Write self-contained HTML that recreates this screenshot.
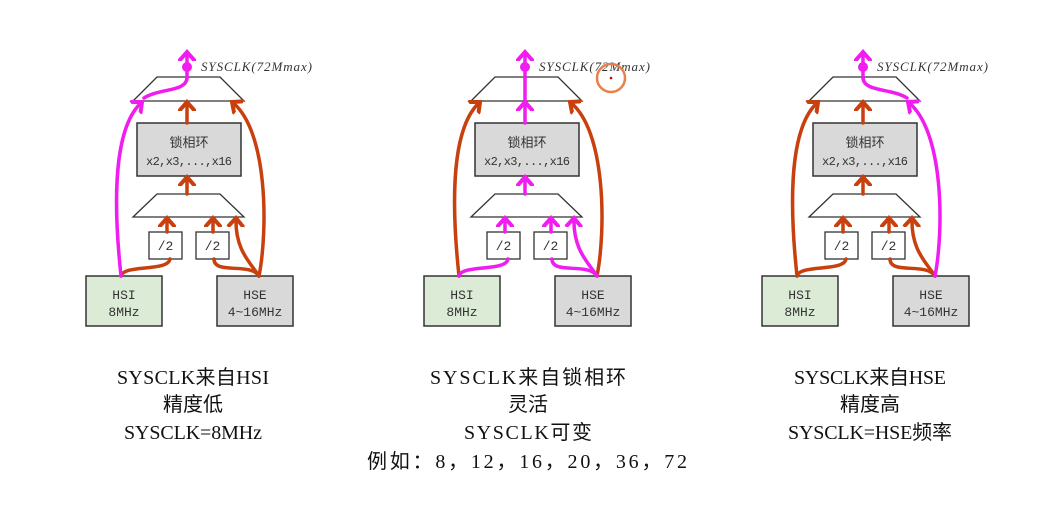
<!DOCTYPE html>
<html><head><meta charset="utf-8"><style>
html,body{margin:0;padding:0;background:#fff;}
svg{display:block}
.b{font-family:"Liberation Mono","Noto Sans CJK SC",monospace;fill:#333;}
.s{font-family:"Liberation Serif","Noto Sans CJK SC",serif;fill:#333;}
.cap{font-family:"Liberation Serif","Noto Sans CJK SC",serif;font-size:20px;fill:#111;text-anchor:middle;}
.o{stroke:#c8400e;stroke-width:3.5;fill:none;stroke-linecap:round;}
.m{stroke:#f01cf0;stroke-width:3.5;fill:none;stroke-linecap:round;}
</style></head><body>
<svg width="1052" height="508" viewBox="0 0 1052 508" xmlns="http://www.w3.org/2000/svg">
<defs>
<marker id="ao" markerUnits="userSpaceOnUse" markerWidth="18" markerHeight="18" refX="0" refY="0" viewBox="-9 -9 18 18" orient="auto"><path d="M-8,-7 L0,0 L-8,7" stroke="#c8400e" stroke-width="4" fill="none" stroke-linecap="round"/></marker>
<marker id="am" markerUnits="userSpaceOnUse" markerWidth="18" markerHeight="18" refX="0" refY="0" viewBox="-9 -9 18 18" orient="auto"><path d="M-8,-7 L0,0 L-8,7" stroke="#f01cf0" stroke-width="4" fill="none" stroke-linecap="round"/></marker>
</defs>

<!-- Diagram 1 -->
<g transform="translate(0,0)">
<polygon points="157,77 220,77 244,101 133,101" fill="#fff" stroke="#333" stroke-width="1.3"/>
<rect x="137" y="123" width="104" height="53" fill="#d9d9d9" stroke="#333" stroke-width="1.5"/>
<text class="b" x="189" y="147" font-size="13" text-anchor="middle">锁相环</text>
<text class="b" x="189" y="165" font-size="12" text-anchor="middle" textLength="86">x2,x3,...,x16</text>
<polygon points="157,194 220,194 244,217 133,217" fill="#fff" stroke="#333" stroke-width="1.3"/>
<rect x="149" y="232" width="33" height="27" fill="#fff" stroke="#333" stroke-width="1.3"/>
<text class="b" x="165.5" y="250" font-size="13" text-anchor="middle">/2</text>
<rect x="196" y="232" width="33" height="27" fill="#fff" stroke="#333" stroke-width="1.3"/>
<text class="b" x="212.5" y="250" font-size="13" text-anchor="middle">/2</text>
<rect x="86" y="276" width="76" height="50" fill="#dcebd5" stroke="#333" stroke-width="1.5"/>
<text class="b" x="124" y="299" font-size="13" text-anchor="middle">HSI</text>
<text class="b" x="124" y="316" font-size="13" text-anchor="middle">8MHz</text>
<rect x="217" y="276" width="76" height="50" fill="#d9d9d9" stroke="#333" stroke-width="1.5"/>
<text class="b" x="255" y="299" font-size="13" text-anchor="middle">HSE</text>
<text class="b" x="255" y="316" font-size="13" text-anchor="middle">4~16MHz</text>
<text class="s" x="201" y="71" font-size="13" font-style="italic" textLength="111">SYSCLK(72Mmax)</text>
<path class="o" d="M187,123 L187,102" marker-end="url(#ao)"/>
<path class="o" d="M187,194 L187,177" marker-end="url(#ao)"/>
<path class="o" d="M167,232 L167,218" marker-end="url(#ao)"/>
<path class="o" d="M213,232 L213,218" marker-end="url(#ao)"/>
<path class="o" d="M259,276 C250,262 235,250 236,218" marker-end="url(#ao)"/>
<path class="o" d="M259,276 C268,230 268,130 232,102" marker-end="url(#ao)"/>
<path class="o" d="M121,276 C124,264 168,272 170,259"/>
<path class="o" d="M259,276 C250,262 214,275 214,259"/>
<path class="m" d="M121,276 C115,220 110,130 142,102" marker-end="url(#am)"/>
<path class="m" d="M144,98 C160,88 186,92 187,78"/>
<path class="m" d="M187,78 L187,52" marker-end="url(#am)"/>
<circle cx="187" cy="67" r="5" fill="#f01cf0"/>
</g>

<!-- Diagram 2 -->
<g transform="translate(338,0)">
<polygon points="157,77 220,77 244,101 133,101" fill="#fff" stroke="#333" stroke-width="1.3"/>
<rect x="137" y="123" width="104" height="53" fill="#d9d9d9" stroke="#333" stroke-width="1.5"/>
<text class="b" x="189" y="147" font-size="13" text-anchor="middle">锁相环</text>
<text class="b" x="189" y="165" font-size="12" text-anchor="middle" textLength="86">x2,x3,...,x16</text>
<polygon points="157,194 220,194 244,217 133,217" fill="#fff" stroke="#333" stroke-width="1.3"/>
<rect x="149" y="232" width="33" height="27" fill="#fff" stroke="#333" stroke-width="1.3"/>
<text class="b" x="165.5" y="250" font-size="13" text-anchor="middle">/2</text>
<rect x="196" y="232" width="33" height="27" fill="#fff" stroke="#333" stroke-width="1.3"/>
<text class="b" x="212.5" y="250" font-size="13" text-anchor="middle">/2</text>
<rect x="86" y="276" width="76" height="50" fill="#dcebd5" stroke="#333" stroke-width="1.5"/>
<text class="b" x="124" y="299" font-size="13" text-anchor="middle">HSI</text>
<text class="b" x="124" y="316" font-size="13" text-anchor="middle">8MHz</text>
<rect x="217" y="276" width="76" height="50" fill="#d9d9d9" stroke="#333" stroke-width="1.5"/>
<text class="b" x="255" y="299" font-size="13" text-anchor="middle">HSE</text>
<text class="b" x="255" y="316" font-size="13" text-anchor="middle">4~16MHz</text>
<text class="s" x="201" y="71" font-size="13" font-style="italic" textLength="111">SYSCLK(72Mmax)</text>
<path class="o" d="M121,276 C115,220 110,130 142,102" marker-end="url(#ao)"/>
<path class="o" d="M259,276 C268,230 268,130 232,102" marker-end="url(#ao)"/>
<path class="m" d="M187,123 L187,102" marker-end="url(#am)"/>
<path class="m" d="M187,194 L187,177" marker-end="url(#am)"/>
<path class="m" d="M167,232 L167,218" marker-end="url(#am)"/>
<path class="m" d="M213,232 L213,218" marker-end="url(#am)"/>
<path class="m" d="M259,276 C250,262 235,250 236,218" marker-end="url(#am)"/>
<path class="m" d="M121,276 C124,264 168,272 170,259"/>
<path class="m" d="M259,276 C250,262 214,275 214,259"/>
<path class="m" d="M187,101 L187,78"/>
<path class="m" d="M187,78 L187,52" marker-end="url(#am)"/>
<circle cx="187" cy="67" r="5" fill="#f01cf0"/>
<circle cx="273" cy="78" r="14" fill="none" stroke="#e8804a" stroke-width="2.5"/>
<circle cx="273" cy="78" r="1.3" fill="#c00"/>
</g>

<!-- Diagram 3 -->
<g transform="translate(676,0)">
<polygon points="157,77 220,77 244,101 133,101" fill="#fff" stroke="#333" stroke-width="1.3"/>
<rect x="137" y="123" width="104" height="53" fill="#d9d9d9" stroke="#333" stroke-width="1.5"/>
<text class="b" x="189" y="147" font-size="13" text-anchor="middle">锁相环</text>
<text class="b" x="189" y="165" font-size="12" text-anchor="middle" textLength="86">x2,x3,...,x16</text>
<polygon points="157,194 220,194 244,217 133,217" fill="#fff" stroke="#333" stroke-width="1.3"/>
<rect x="149" y="232" width="33" height="27" fill="#fff" stroke="#333" stroke-width="1.3"/>
<text class="b" x="165.5" y="250" font-size="13" text-anchor="middle">/2</text>
<rect x="196" y="232" width="33" height="27" fill="#fff" stroke="#333" stroke-width="1.3"/>
<text class="b" x="212.5" y="250" font-size="13" text-anchor="middle">/2</text>
<rect x="86" y="276" width="76" height="50" fill="#dcebd5" stroke="#333" stroke-width="1.5"/>
<text class="b" x="124" y="299" font-size="13" text-anchor="middle">HSI</text>
<text class="b" x="124" y="316" font-size="13" text-anchor="middle">8MHz</text>
<rect x="217" y="276" width="76" height="50" fill="#d9d9d9" stroke="#333" stroke-width="1.5"/>
<text class="b" x="255" y="299" font-size="13" text-anchor="middle">HSE</text>
<text class="b" x="255" y="316" font-size="13" text-anchor="middle">4~16MHz</text>
<text class="s" x="201" y="71" font-size="13" font-style="italic" textLength="111">SYSCLK(72Mmax)</text>
<path class="o" d="M121,276 C115,220 110,130 142,102" marker-end="url(#ao)"/>
<path class="o" d="M187,123 L187,102" marker-end="url(#ao)"/>
<path class="o" d="M187,194 L187,177" marker-end="url(#ao)"/>
<path class="o" d="M167,232 L167,218" marker-end="url(#ao)"/>
<path class="o" d="M213,232 L213,218" marker-end="url(#ao)"/>
<path class="o" d="M259,276 C250,262 235,250 236,218" marker-end="url(#ao)"/>
<path class="o" d="M121,276 C124,264 168,272 170,259"/>
<path class="o" d="M259,276 C250,262 214,275 214,259"/>
<path class="m" d="M259,276 C268,230 268,130 232,102" marker-end="url(#am)"/>
<path class="m" d="M231,98 C215,88 188,92 187,78"/>
<path class="m" d="M187,78 L187,52" marker-end="url(#am)"/>
<circle cx="187" cy="67" r="5" fill="#f01cf0"/>
</g>

<!-- captions -->
<text class="cap" x="193" y="384" textLength="152">SYSCLK来自HSI</text>
<text class="cap" x="193" y="411">精度低</text>
<text class="cap" x="193" y="439" textLength="138">SYSCLK=8MHz</text>

<text class="cap" x="528" y="384" textLength="196">SYSCLK来自锁相环</text>
<text class="cap" x="528" y="411">灵活</text>
<text class="cap" x="528" y="439" textLength="128">SYSCLK可变</text>
<text class="cap" x="527" y="468" textLength="320">例如：8，12，16，20，36，72</text>

<text class="cap" x="870" y="384" textLength="152">SYSCLK来自HSE</text>
<text class="cap" x="870" y="411">精度高</text>
<text class="cap" x="870" y="439" textLength="164">SYSCLK=HSE频率</text>
</svg>
</body></html>
